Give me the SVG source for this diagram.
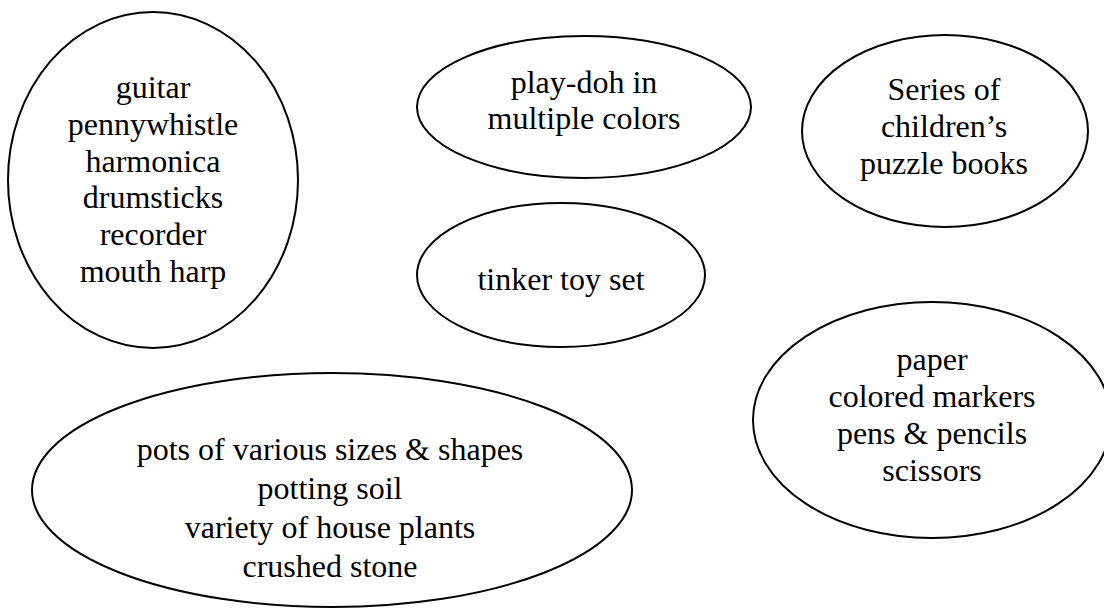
<svg xmlns="http://www.w3.org/2000/svg" width="1104" height="609" viewBox="0 0 1104 609">
<style>
.n{fill:#fff;stroke:#000;stroke-width:2}
.t{font-family:"Liberation Serif","Times New Roman",serif;font-size:32px;fill:#000;text-anchor:middle}
</style>
<rect width="1104" height="609" fill="#fff"/>
<g id="connectors"></g>
<g id="music">
<ellipse class="n" cx="153" cy="180" rx="145" ry="168"/>
<text class="t" x="153" y="98">guitar</text>
<text class="t" x="153" y="135">pennywhistle</text>
<text class="t" x="153" y="172">harmonica</text>
<text class="t" x="153" y="208">drumsticks</text>
<text class="t" x="153" y="245">recorder</text>
<text class="t" x="153" y="282">mouth harp</text>
</g>
<g id="playdoh">
<ellipse class="n" cx="584" cy="107" rx="167" ry="71"/>
<text class="t" x="584" y="93">play-doh in</text>
<text class="t" x="584" y="129">multiple colors</text>
</g>
<g id="books">
<ellipse class="n" cx="945" cy="131" rx="143" ry="96"/>
<text class="t" x="944" y="100">Series of</text>
<text class="t" x="944" y="137">children’s</text>
<text class="t" x="944" y="174">puzzle books</text>
</g>
<g id="tinker">
<ellipse class="n" cx="561" cy="275" rx="144" ry="72"/>
<text class="t" x="561" y="290">tinker toy set</text>
</g>
<g id="art">
<ellipse class="n" cx="932" cy="420" rx="179" ry="118"/>
<text class="t" x="932" y="370">paper</text>
<text class="t" x="932" y="407">colored markers</text>
<text class="t" x="932" y="444">pens &amp; pencils</text>
<text class="t" x="932" y="481">scissors</text>
</g>
<g id="plants">
<ellipse class="n" cx="332" cy="490" rx="300" ry="117"/>
<text class="t" x="330" y="460">pots of various sizes &amp; shapes</text>
<text class="t" x="330" y="499">potting soil</text>
<text class="t" x="330" y="538">variety of house plants</text>
<text class="t" x="330" y="577">crushed stone</text>
</g>
</svg>
